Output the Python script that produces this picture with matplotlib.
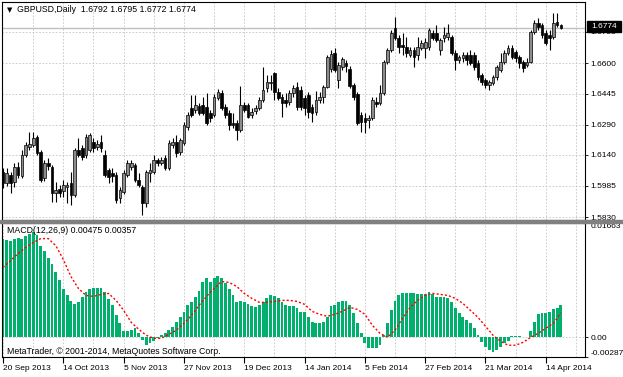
import matplotlib
matplotlib.use('Agg')
import matplotlib.pyplot as plt
import numpy as np
from matplotlib.patches import Rectangle

plt.rcParams['font.family'] = ['Liberation Sans', 'DejaVu Sans']

# GBPUSD daily candles, 20 Sep 2013 .. 18 Apr 2014
opens = [1.6055, 1.6000, 1.6040, 1.6005, 1.6080, 1.6035, 1.6140, 1.6180, 1.6190, 1.6230,
         1.6155, 1.6025, 1.6100, 1.6080, 1.5950, 1.5970, 1.5960, 1.5980, 1.6000, 1.5940,
         1.6165, 1.6175, 1.6140, 1.6165, 1.6205, 1.6180, 1.6205, 1.6140, 1.6065, 1.6050,
         1.6040, 1.5925, 1.5955, 1.6040, 1.6080, 1.6090, 1.6015, 1.5980, 1.5900, 1.6050,
         1.6055, 1.6115, 1.6100, 1.6125, 1.6075, 1.6190, 1.6205, 1.6155, 1.6200, 1.6280,
         1.6375, 1.6365, 1.6385, 1.6390, 1.6380, 1.6350, 1.6340, 1.6425, 1.6450, 1.6380,
         1.6350, 1.6300, 1.6300, 1.6265, 1.6390, 1.6390, 1.6340, 1.6360, 1.6375, 1.6415,
         1.6475, 1.6500, 1.6550, 1.6455, 1.6430, 1.6415, 1.6405, 1.6450, 1.6480, 1.6465,
         1.6425, 1.6440, 1.6380, 1.6355, 1.6415, 1.6430, 1.6480, 1.6570, 1.6650, 1.6515,
         1.6580, 1.6600, 1.6570, 1.6490, 1.6445, 1.6340, 1.6325, 1.6315, 1.6325, 1.6405,
         1.6400, 1.6450, 1.6605, 1.6665, 1.6775, 1.6725, 1.6690, 1.6680, 1.6640, 1.6665,
         1.6640, 1.6675, 1.6675, 1.6680, 1.6750, 1.6750, 1.6665, 1.6725, 1.6730, 1.6730,
         1.6650, 1.6615, 1.6625, 1.6640, 1.6640, 1.6640, 1.6600, 1.6540, 1.6515, 1.6490,
         1.6500, 1.6530, 1.6565, 1.6605, 1.6650, 1.6675, 1.6655, 1.6630, 1.6605, 1.6590,
         1.6605, 1.6755, 1.6800, 1.6790, 1.6750, 1.6740, 1.6730, 1.6805, 1.6792]
highs = [1.6075, 1.6075, 1.6055, 1.6100, 1.6105, 1.6165, 1.6205, 1.6255, 1.6255, 1.6240,
         1.6165, 1.6115, 1.6125, 1.6090, 1.6005, 1.5990, 1.6015, 1.6005, 1.6055, 1.6175,
         1.6225, 1.6190, 1.6245, 1.6250, 1.6225, 1.6215, 1.6240, 1.6165, 1.6075, 1.6075,
         1.6055, 1.5980, 1.6065, 1.6115, 1.6115, 1.6100, 1.6050, 1.5990, 1.6065, 1.6100,
         1.6140, 1.6125, 1.6130, 1.6140, 1.6215, 1.6225, 1.6240, 1.6225, 1.6305, 1.6355,
         1.6440, 1.6440, 1.6400, 1.6430, 1.6450, 1.6365, 1.6445, 1.6470, 1.6465, 1.6395,
         1.6365, 1.6350, 1.6315, 1.6485, 1.6405, 1.6400, 1.6375, 1.6390, 1.6430, 1.6580,
         1.6540, 1.6540, 1.6555, 1.6475, 1.6445, 1.6450, 1.6465, 1.6490, 1.6505, 1.6485,
         1.6440, 1.6455, 1.6395, 1.6460, 1.6455, 1.6490, 1.6640, 1.6665, 1.6675, 1.6605,
         1.6630, 1.6615, 1.6585, 1.6500, 1.6455, 1.6355, 1.6350, 1.6340, 1.6430, 1.6430,
         1.6490, 1.6615, 1.6675, 1.6765, 1.6830, 1.6740, 1.6750, 1.6730, 1.6680, 1.6680,
         1.6730, 1.6715, 1.6725, 1.6775, 1.6765, 1.6790, 1.6725, 1.6780, 1.6795, 1.6740,
         1.6665, 1.6640, 1.6655, 1.6655, 1.6665, 1.6655, 1.6615, 1.6550, 1.6525, 1.6515,
         1.6540, 1.6590, 1.6650, 1.6665, 1.6690, 1.6690, 1.6665, 1.6640, 1.6615, 1.6625,
         1.6765, 1.6815, 1.6825, 1.6800, 1.6765, 1.6765, 1.6850, 1.6850, 1.6795]
lows = [1.5975, 1.5985, 1.5950, 1.5980, 1.6025, 1.6025, 1.6130, 1.6165, 1.6180, 1.6140,
        1.6005, 1.6010, 1.6065, 1.5905, 1.5905, 1.5930, 1.5930, 1.5900, 1.5890, 1.5930,
        1.6130, 1.6115, 1.6125, 1.6155, 1.6155, 1.6165, 1.6155, 1.6030, 1.6000, 1.6005,
        1.5900, 1.5900, 1.5945, 1.6030, 1.6065, 1.6005, 1.5980, 1.5840, 1.5880, 1.6005,
        1.6045, 1.6085, 1.6090, 1.6065, 1.6065, 1.6175, 1.6130, 1.6140, 1.6190, 1.6265,
        1.6330, 1.6350, 1.6340, 1.6340, 1.6290, 1.6305, 1.6330, 1.6415, 1.6365, 1.6325,
        1.6265, 1.6275, 1.6215, 1.6255, 1.6355, 1.6325, 1.6325, 1.6345, 1.6365, 1.6405,
        1.6455, 1.6465, 1.6415, 1.6415, 1.6330, 1.6380, 1.6390, 1.6430, 1.6365, 1.6365,
        1.6340, 1.6325, 1.6305, 1.6340, 1.6400, 1.6400, 1.6475, 1.6555, 1.6555, 1.6475,
        1.6565, 1.6555, 1.6475, 1.6415, 1.6290, 1.6255, 1.6250, 1.6275, 1.6315, 1.6380,
        1.6390, 1.6440, 1.6595, 1.6655, 1.6715, 1.6650, 1.6640, 1.6630, 1.6630, 1.6580,
        1.6615, 1.6665, 1.6625, 1.6665, 1.6715, 1.6705, 1.6640, 1.6705, 1.6715, 1.6640,
        1.6565, 1.6600, 1.6605, 1.6590, 1.6590, 1.6565, 1.6515, 1.6490, 1.6475, 1.6465,
        1.6490, 1.6515, 1.6555, 1.6595, 1.6640, 1.6620, 1.6605, 1.6575, 1.6555, 1.6580,
        1.6600, 1.6745, 1.6765, 1.6725, 1.6690, 1.6665, 1.6720, 1.6780, 1.6772]
closes = [1.6000, 1.6050, 1.6000, 1.6080, 1.6040, 1.6140, 1.6190, 1.6195, 1.6225, 1.6150,
          1.6015, 1.6100, 1.6085, 1.5950, 1.5965, 1.5950, 1.5990, 1.5990, 1.5940, 1.6165,
          1.6140, 1.6130, 1.6230, 1.6240, 1.6175, 1.6195, 1.6175, 1.6040, 1.6030, 1.6035,
          1.5915, 1.5965, 1.6050, 1.6100, 1.6100, 1.6015, 1.5990, 1.5900, 1.6055, 1.6065,
          1.6115, 1.6100, 1.6115, 1.6075, 1.6200, 1.6205, 1.6150, 1.6215, 1.6290, 1.6340,
          1.6340, 1.6390, 1.6350, 1.6350, 1.6300, 1.6325, 1.6430, 1.6455, 1.6375, 1.6340,
          1.6290, 1.6290, 1.6265, 1.6390, 1.6365, 1.6330, 1.6355, 1.6375, 1.6415, 1.6465,
          1.6505, 1.6505, 1.6455, 1.6425, 1.6400, 1.6400, 1.6450, 1.6475, 1.6380, 1.6380,
          1.6375, 1.6355, 1.6350, 1.6415, 1.6430, 1.6480, 1.6630, 1.6645, 1.6565, 1.6590,
          1.6620, 1.6585, 1.6485, 1.6430, 1.6300, 1.6305, 1.6305, 1.6325, 1.6415, 1.6395,
          1.6450, 1.6605, 1.6665, 1.6750, 1.6725, 1.6680, 1.6680, 1.6650, 1.6665, 1.6630,
          1.6680, 1.6700, 1.6705, 1.6765, 1.6725, 1.6715, 1.6715, 1.6740, 1.6750, 1.6650,
          1.6615, 1.6630, 1.6640, 1.6615, 1.6600, 1.6580, 1.6530, 1.6505, 1.6490, 1.6505,
          1.6530, 1.6580, 1.6605, 1.6650, 1.6675, 1.6630, 1.6625, 1.6600, 1.6575, 1.6605,
          1.6755, 1.6800, 1.6780, 1.6740, 1.6700, 1.6725, 1.6800, 1.6790, 1.6774]

# MACD(12,26,9) histogram and signal line
macd_hist = [0.01436, 0.01421, 0.01407, 0.01436, 0.01450, 0.01436, 0.01479, 0.01508, 0.01537, 0.01494,
             0.01334, 0.01262, 0.01160, 0.01073, 0.00943, 0.00827, 0.00696, 0.00609, 0.00522, 0.00479,
             0.00508, 0.00580, 0.00653, 0.00696, 0.00711, 0.00711, 0.00711, 0.00653, 0.00551, 0.00464,
             0.00319, 0.00203, 0.00087, 0.00087, 0.00102, 0.00131, 0.00058, -0.00044, -0.00116, -0.00087,
             -0.00058, -0.00015, 0.00029, 0.00058, 0.00102, 0.00145, 0.00218, 0.00290, 0.00363, 0.00464,
             0.00508, 0.00580, 0.00667, 0.00798, 0.00856, 0.00798, 0.00856, 0.00899, 0.00856, 0.00783,
             0.00696, 0.00609, 0.00508, 0.00522, 0.00508, 0.00479, 0.00450, 0.00435, 0.00464, 0.00508,
             0.00566, 0.00609, 0.00595, 0.00566, 0.00508, 0.00464, 0.00450, 0.00450, 0.00421, 0.00363,
             0.00363, 0.00290, 0.00218, 0.00203, 0.00203, 0.00218, 0.00290, 0.00450, 0.00464, 0.00508,
             0.00522, 0.00522, 0.00464, 0.00348, 0.00203, 0.00058, -0.00087, -0.00160, -0.00160, -0.00160,
             -0.00116, 0.00029, 0.00203, 0.00392, 0.00522, 0.00609, 0.00638, 0.00638, 0.00638, 0.00638,
             0.00624, 0.00624, 0.00624, 0.00653, 0.00624, 0.00580, 0.00580, 0.00580, 0.00566, 0.00508,
             0.00421, 0.00348, 0.00290, 0.00247, 0.00203, 0.00131, 0.00029, -0.00073, -0.00145, -0.00189,
             -0.00218, -0.00189, -0.00145, -0.00087, -0.00058, 0.00015, 0.00022, 0.00022, 0.00005, 0.00005,
             0.00087, 0.00218, 0.00334, 0.00348, 0.00348, 0.00363, 0.00406, 0.00421, 0.00475]
signal_bar = list(range(0, 149, 2))
signal = [0.01015, 0.01117, 0.01218, 0.01305, 0.01378, 0.01436, 0.01436, 0.01334, 0.01131, 0.00885,
          0.00711, 0.00609, 0.00595, 0.00624, 0.00638, 0.00537, 0.00392, 0.00218, 0.00116, 0.00029,
          -0.00015, -0.00015, 0.00044, 0.00102, 0.00203, 0.00319, 0.00464, 0.00595, 0.00711, 0.00812,
          0.00798, 0.00740, 0.00638, 0.00566, 0.00508, 0.00508, 0.00522, 0.00537, 0.00537, 0.00522,
          0.00479, 0.00377, 0.00334, 0.00305, 0.00334, 0.00377, 0.00435, 0.00406, 0.00334, 0.00174,
          0.00058, 0.00000, 0.00102, 0.00276, 0.00435, 0.00537, 0.00609, 0.00638, 0.00624, 0.00609,
          0.00566, 0.00493, 0.00392, 0.00290, 0.00160, 0.00029, -0.00058, -0.00116, -0.00116, -0.00073,
          0.00000, 0.00058, 0.00131, 0.00203, 0.00357]

price_ticks = [1.6755, 1.6600, 1.6445, 1.6290, 1.6140, 1.5985, 1.5830]
date_bar = [0, 16, 32, 48, 64, 80, 96, 112, 128, 144]
date_labels = ['20 Sep 2013', '14 Oct 2013', '5 Nov 2013', '27 Nov 2013', '19 Dec 2013',
               '14 Jan 2014', '5 Feb 2014', '27 Feb 2014', '21 Mar 2014', '14 Apr 2014']
last_price = 1.6774

W, H = 623, 377
fig = plt.figure(figsize=(W / 100, H / 100), dpi=100)

def box(x0, y0, x1, y1):
    return [x0 / W, 1 - y1 / H, (x1 - x0) / W, (y1 - y0) / H]

ax = fig.add_axes(box(2, 2, 585, 220))
ax2 = fig.add_axes(box(2, 223, 585, 357))

o = np.array(opens); h = np.array(highs); l = np.array(lows); c = np.array(closes)
x = np.arange(len(o))
up = c >= o

grid_kw = dict(color='#c4c4c4', linestyle=(0, (2, 2)), linewidth=0.6)

# ---- price panel
ax.axhline(last_price, color='#c0c0c0', lw=1, zorder=1)
ax.vlines(x, l, h, color='black', lw=0.8, zorder=2)
body_lo = np.minimum(o, c)
body_h = np.maximum(np.abs(c - o), 0.0001)
ax.bar(x[up], body_h[up], bottom=body_lo[up], width=0.72, color='#8c8c8c',
       edgecolor='black', lw=0.5, zorder=3)
ax.bar(x[~up], body_h[~up], bottom=body_lo[~up], width=0.72, color='black',
       edgecolor='black', lw=0.5, zorder=3)

ax.set_xlim(-0.27, 154.4)
ax.set_ylim(1.5815, 1.6905)
ax.set_xticks(np.arange(8, 155, 8))
ax.tick_params(axis='x', length=0, labelbottom=False)
ax.yaxis.tick_right()
ax.set_yticks(price_ticks)
ax.set_yticklabels(['%.4f' % v for v in price_ticks])
ax.tick_params(axis='y', length=2, width=0.6, pad=2, labelsize=6)
ax.grid(True, **grid_kw)
ax.set_axisbelow(True)
for s in ax.spines.values():
    s.set_color('black'); s.set_linewidth(0.8)

# current price tag
fig.patches.append(Rectangle((587 / W, 1 - 32 / H), 34 / W, 11 / H,
                             transform=fig.transFigure, color='black', zorder=5))
fig.text(604 / W, 1 - 26.5 / H, '%.4f' % last_price, color='white', fontsize=6,
         ha='center', va='center', zorder=6)

# splitter between windows
fig.patches.append(Rectangle((0, 1 - 222.5 / H), 1, 3 / H, transform=fig.transFigure,
                             color='#808080', zorder=4))

fig.text(7 / W, 1 - 10 / H, '\u25bc', fontsize=5, va='center', family=['DejaVu Sans'])
fig.text(17 / W, 1 - 10 / H, 'GBPUSD,Daily  %.4f %.4f %.4f %.4f' % (opens[-1], highs[-1], lows[-1], closes[-1]),
         fontsize=6.3, va='center')

# ---- MACD panel
ax2.bar(x, macd_hist, width=0.75, color='#00b06c', lw=0, zorder=2)
ax2.plot(signal_bar, signal, color='red', lw=1, linestyle=(0, (1.5, 1.5)), zorder=3)
ax2.set_xlim(-0.27, 154.4)
ax2.set_ylim(-0.00287, 0.01663)
ax2.set_xticks(np.arange(8, 155, 8), minor=True)
ax2.set_xticks(date_bar)
ax2.set_xticklabels(date_labels, ha='left', fontsize=6)
ax2.tick_params(axis='x', which='major', length=4, width=0.8, pad=2)
ax2.tick_params(axis='x', which='minor', length=0)
ax2.xaxis.grid(True, which='both', **grid_kw)
ax2.yaxis.tick_right()
ax2.set_yticks([-0.00287, 0, 0.01663])
ax2.set_yticklabels(['-0.00287', '0.00', '0.01663'])
ax2.tick_params(axis='y', length=2, width=0.6, pad=2, labelsize=6)
ylabs = ax2.get_yticklabels()
ylabs[0].set_va('bottom')
ylabs[2].set_va('top')
ax2.axhline(0, zorder=1, **grid_kw)
ax2.set_axisbelow(True)
for s in ax2.spines.values():
    s.set_color('black'); s.set_linewidth(0.8)

fig.text(7 / W, 1 - 230 / H, 'MACD(12,26,9) %.5f %.5f' % (macd_hist[-1], signal[-1]),
         fontsize=6.3, va='center')
fig.text(7 / W, 1 - 352 / H, 'MetaTrader, \u00a9 2001-2014, MetaQuotes Software Corp.',
         fontsize=6.3, va='center')

fig.savefig('out.png', dpi=100, facecolor='white')
